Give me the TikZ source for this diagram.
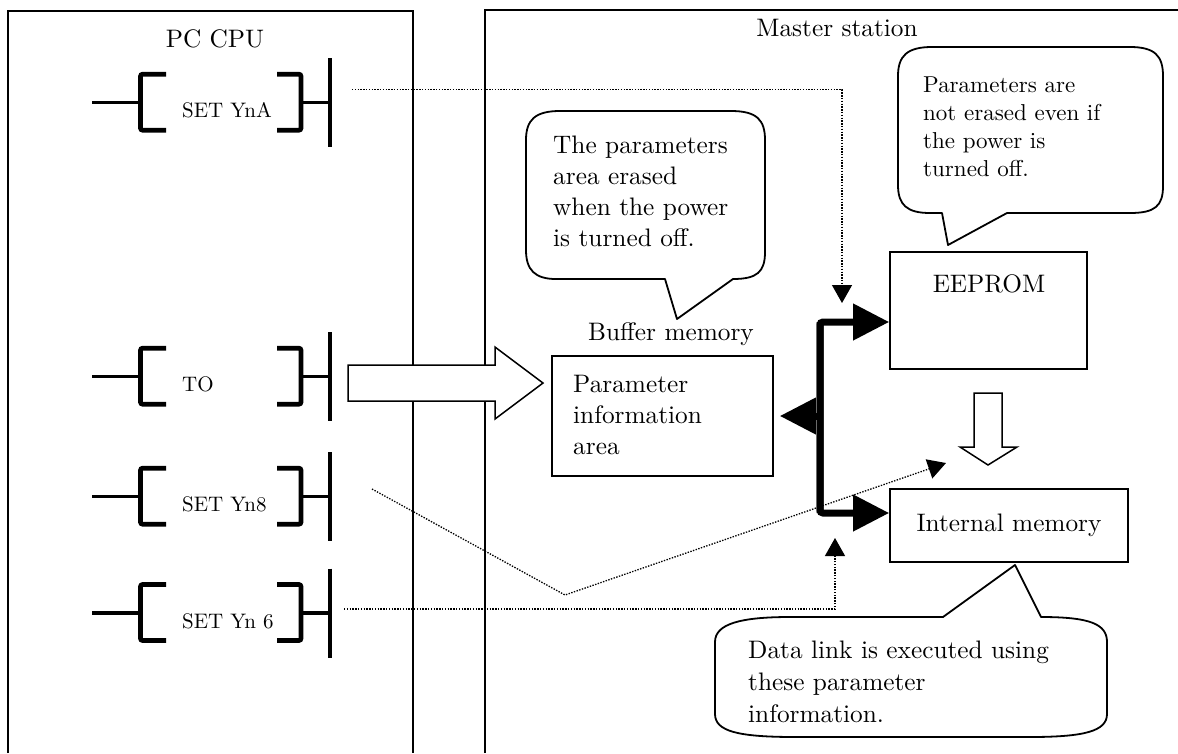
\documentclass[tikz,border=0pt]{standalone}
\usepackage{fontspec}
\setmainfont{lmroman10-regular.otf}
\usetikzlibrary{arrows.meta}
\newcommand\ladderrung[3]{%
  \draw[wire] (92,#2) -- (141,#2);
  \draw[brk] (166,{#2-28.5}) -- (140.5,{#2-28.5}) -- (140.5,{#2+27.5}) -- (166,{#2+27.5});
  \draw[brk] (277,{#2-28.5}) -- (301,{#2-28.5}) -- (301,{#2+27.5}) -- (277,{#2+27.5});
  \draw[wire] (301,#2) -- (330,#2);
  \draw[bar] (330,{#2-44.5}) -- (330,{#2+44.5});
  \node[lbl] (#1) at (182,{#2+15}) {#3};
}
\begin{document}
\begin{tikzpicture}[x=1pt,y=-1pt,
  frame/.style={line width=1.3pt},
  wire/.style={line width=3.2pt},
  brk/.style={line width=4.6pt, rounded corners=2pt},
  bar/.style={line width=4.6pt},
  lbl/.style={inner sep=0pt, anchor=base west, font=\fontsize{21}{25}\selectfont},
  txt/.style={inner sep=0pt, font=\fontsize{25.3}{31.3}\selectfont},
  box/.style={draw, line width=1.6pt, inner sep=0pt},
  callout/.style={draw, line width=1.8pt, fill=white, line join=round},
  dots/.style={line width=1.3pt, dash pattern=on 1.4pt off 1.4pt},
  dotarrow/.style={dots, -{Triangle[length=18pt,width=20pt]}},
  bus/.style={line width=7pt},
  busarrow/.style={bus, -{Triangle[length=36pt,width=35pt]}},
  hollow/.style={draw, line width=1.5pt, fill=white, line join=miter},
]
\useasboundingbox (0,0) rectangle (1178,753);

% outer frames
\draw[frame] (8,753) -- (8,11) -- (413,11) -- (413,753);
\draw[frame] (485,753) -- (485,10) -- (1178,10);
\node[txt, anchor=base] (pccpu) at (215,47) {PC CPU};
\node[txt, anchor=base] (master) at (837,36) {Master station};

% ladder rungs
\ladderrung{ynA}{102.7}{SET YnA}
\ladderrung{to}{376.7}{TO}
\ladderrung{yn8}{496.7}{SET Yn8}
\ladderrung{yn6}{613}{SET Yn 6}

% master station blocks
\node[box, minimum width=221pt, minimum height=120pt] (param) at (662.5,416) {};
\node[txt, anchor=base west] (paramtxt) at (573,392)
  {\parbox[t]{190pt}{\raggedright Parameter\\information\\area}};
\node[txt, anchor=base] (buffer) at (671,340) {Buffer memory};

\node[box, minimum width=197pt, minimum height=117pt] (eeprom) at (988.5,310.5) {};
\node[txt, anchor=base] (eepromtxt) at (989,292) {EEPROM};

\node[box, txt, minimum width=238pt, minimum height=73pt] (internal) at (1009,525.5) {Internal memory};

% hollow arrow from TO to buffer memory
\coordinate (toTail) at (348,383);
\draw[hollow] (toTail) ++(0,-18) -- ++(147,0) -- ++(0,-18) -- (543,383) -- (495,419) -- ++(0,-18) -- (348,401) -- cycle;

% hollow arrow EEPROM -> internal memory
\draw[hollow] (974,393) -- (1002,393) -- (1002,447) -- (1017,447) -- (988,465) -- (960,447) -- (974,447) -- cycle;

% thick bus
\coordinate (busT) at (820,322);
\coordinate (busB) at (820,513);
\draw[busarrow, rounded corners=3pt] (busB) -- (busT) -- (busT -| eeprom.west);
\draw[busarrow, rounded corners=3pt] (busT) -- (busB) -- (busB -| internal.west);
\draw[busarrow] (busT |- param.east) -- ([xshift=6pt]param.east);

% dotted signal lines
\coordinate (dA) at (352,89.5);
\coordinate (dAend) at (842,303);
\draw[dotarrow] (dA) -| (dAend);
\coordinate (d8) at (372,489);
\coordinate (d8mid) at (565,595);
\coordinate (d8end) at (946,463);
\draw[dotarrow] (d8) -- (d8mid) -- (d8end);
\coordinate (d6) at (344,609);
\coordinate (d6end) at (835,538);
\draw[dotarrow] (d6) -| (d6end);

% callout 1
\draw[callout] (560,111) -- (731,111)
  .. controls (757,111) and (765,120) .. (765,140) -- (765,252)
  .. controls (765,272) and (757,279) .. (733,279) -- (677,319) -- (665,279) -- (556,279)
  .. controls (535,279) and (526,270) .. (526,250) -- (526,140)
  .. controls (526,120) and (535,111) .. (560,111) -- cycle;
\node[txt, anchor=base west] (note1) at (553,153)
  {\parbox[t]{220pt}{\raggedright The parameters\\area erased\\when the power\\is turned off.}};

% callout 2
\draw[callout] (932,47) -- (1130,47)
  .. controls (1155,47) and (1163,56) .. (1163,76) -- (1163,186)
  .. controls (1163,206) and (1155,213) .. (1130,213) -- (1007,213) -- (948,245) -- (942,213) -- (930,213)
  .. controls (907,213) and (898,205) .. (898,185) -- (898,76)
  .. controls (898,56) and (907,47) .. (932,47) -- cycle;
\node[inner sep=0pt, anchor=base west, font=\fontsize{23}{28.3}\selectfont] (note2) at (923,92)
  {\parbox[t]{230pt}{\raggedright Parameters are\\not erased even if\\the power is\\turned off.}};

% callout 3
\draw[callout] (790,617) -- (943,617) -- (1015,565) -- (1041,617)
  .. controls (1090,617) and (1107,624) .. (1107,642) -- (1107,714)
  .. controls (1107,731) and (1085,737) .. (1030,737) -- (795,737)
  .. controls (737,737) and (715,731) .. (715,714) -- (715,642)
  .. controls (715,624) and (740,617) .. (790,617) -- cycle;
\node[inner sep=0pt, anchor=base west, font=\fontsize{25.3}{32}\selectfont] (note3) at (748,658)
  {\parbox[t]{340pt}{\raggedright Data link is executed using\\these parameter\\information.}};

\end{tikzpicture}
\end{document}
